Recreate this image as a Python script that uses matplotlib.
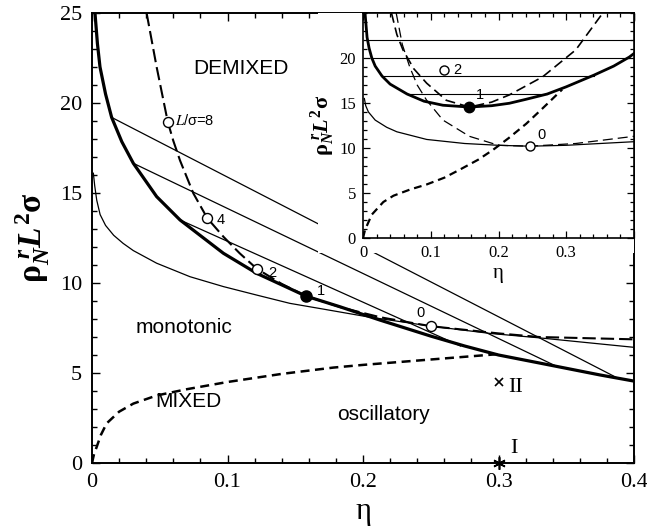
import matplotlib
matplotlib.use("Agg")
import matplotlib.pyplot as plt
from matplotlib.ticker import MultipleLocator

plt.rcParams['mathtext.fontset'] = 'custom'
plt.rcParams['mathtext.rm'] = 'Liberation Serif:bold'
plt.rcParams['mathtext.it'] = 'Liberation Serif:italic:bold'
plt.rcParams['mathtext.bf'] = 'Liberation Serif:bold'

# ---------------- main panel data ----------------
binodal_x = [0.0022, 0.004, 0.0059, 0.01, 0.0145, 0.022, 0.0305, 0.0477, 0.065, 0.097,
             0.1215, 0.158, 0.183, 0.2125, 0.25, 0.275, 0.3, 0.338, 0.375, 0.4]
binodal_y = [25.0, 23.3, 22.0, 20.5, 19.2, 17.85, 16.65, 14.8, 13.5, 11.65,
             10.54, 9.27, 8.68, 7.94, 7.05, 6.5, 6.0, 5.44, 4.89, 4.55]

crossover_x = [0.001, 0.002, 0.0035, 0.006, 0.01, 0.016, 0.023, 0.0305, 0.0477, 0.0723,
               0.097, 0.1215, 0.146, 0.1707, 0.2027, 0.2494, 0.2937, 0.3306, 0.3995]
crossover_y = [16.1, 15.4, 14.6, 13.8, 13.2, 12.65, 12.2, 11.8, 11.1, 10.35,
               9.8, 9.33, 8.87, 8.55, 8.13, 7.61, 7.2, 6.95, 6.43]

critical_x = [0.0403, 0.0477, 0.0559, 0.06, 0.065, 0.0748, 0.0851, 0.097, 0.109, 0.1215,
              0.14, 0.158, 0.185, 0.2125, 0.25, 0.3, 0.33, 0.4]
critical_y = [25.0, 22.0, 18.96, 17.9, 16.8, 14.98, 13.6, 12.57, 11.65, 10.8,
              9.95, 9.27, 8.62, 8.1, 7.6, 7.2, 7.0, 6.87]

fisher_x = [0.0, 0.0015, 0.0035, 0.0065, 0.0108, 0.02, 0.0305, 0.0477, 0.07, 0.1, 0.14,
            0.178, 0.2, 0.25, 0.3]
fisher_y = [0.0, 0.5, 0.9, 1.55, 2.2, 2.85, 3.3, 3.75, 4.1, 4.5, 4.95,
            5.3, 5.45, 5.75, 6.05]

tie_x = [[0.0145, 0.387], [0.0305, 0.342], [0.065, 0.272]]
tie_y = [[19.2, 4.75], [16.65, 5.4], [13.5, 6.5]]

crit_pts_x = [0.0559, 0.0851, 0.1215, 0.158, 0.25]
crit_pts_y = [18.96, 13.6, 10.8, 9.27, 7.6]
crit_filled = [False, False, False, True, False]
crit_labels = ['L/σ=8', '4', '2', '1', '0']
crit_label_x = [0.0613, 0.092, 0.130, 0.1658, 0.2396]
crit_label_y = [18.8, 13.3, 10.35, 9.33, 8.13]

state_x = [0.3, 0.3]
state_y = [4.5, 0.0]
state_names = ['II', 'I']
state_label_x = [0.307, 0.3085]
state_label_y = [3.94, 0.55]

region_names = ['DEMIXED', 'monotonic', 'MIXED', 'oscillatory']
region_x = [0.1099, 0.0675, 0.0712, 0.2151]
region_y = [21.6, 7.2, 3.13, 2.39]

# ---------------- inset data ----------------
in_binodal_x = [0.003, 0.006, 0.009, 0.013, 0.018, 0.028, 0.04, 0.065, 0.09, 0.118,
                0.157, 0.19, 0.216, 0.24, 0.272, 0.3, 0.341, 0.37, 0.393, 0.4]
in_binodal_y = [25.0, 22.3, 21.1, 20.0, 19.1, 18.0, 17.1, 16.0, 15.2, 14.75,
                14.55, 14.7, 14.97, 15.4, 16.0, 16.8, 18.1, 19.1, 20.1, 20.5]

in_tie_y = [22.0, 20.0, 18.0, 16.0]
in_tie_x0 = [0.0055, 0.013, 0.028, 0.065]
in_tie_x1 = [0.4, 0.393, 0.341, 0.272]

in_spin1_x = [0.042, 0.05, 0.059, 0.075, 0.094, 0.123, 0.157, 0.19, 0.216, 0.265, 0.314, 0.354]
in_spin1_y = [25.0, 22.6, 20.9, 18.8, 17.2, 15.3, 14.55, 15.1, 15.9, 17.9, 20.9, 25.0]

in_spin0_x = [0.049, 0.058, 0.069, 0.08, 0.094, 0.118, 0.157, 0.2, 0.246, 0.314, 0.4]
in_spin0_y = [25.0, 21.5, 19.0, 17.0, 15.3, 13.1, 11.3, 10.3, 10.2, 10.5, 11.3]

in_cross_x = [0.002, 0.004, 0.008, 0.018, 0.035, 0.05, 0.094, 0.15, 0.2, 0.246, 0.3, 0.35, 0.4]
in_cross_y = [15.5, 14.7, 14.0, 13.1, 12.3, 11.8, 10.95, 10.5, 10.3, 10.2, 10.3, 10.5, 10.7]

in_fisher_x = [0.0, 0.003, 0.013, 0.03, 0.045, 0.07, 0.094, 0.12, 0.143, 0.17, 0.192,
               0.215, 0.241, 0.265, 0.294]
in_fisher_y = [0.0, 0.9, 2.6, 4.0, 4.7, 5.4, 5.95, 6.7, 7.6, 8.7, 9.8,
               11.1, 12.7, 14.4, 16.5]

in_pts_x = [0.12, 0.157, 0.246]
in_pts_y = [18.7, 14.6, 10.2]
in_filled = [False, True, False]
in_labels = ['2', '1', '0']
in_label_x = [0.133, 0.166, 0.257]
in_label_y = [18.2, 15.4, 10.95]

x_ticks = [0, 0.1, 0.2, 0.3, 0.4]
x_ticklabels = ['0', '0.1', '0.2', '0.3', '0.4']
y_ticks = [0, 5, 10, 15, 20, 25]
in_x_ticklabels = ['0', '0.1', '0.2', '0.3', '']
in_y_ticks = [0, 5, 10, 15, 20]

SERIF = 'Liberation Serif'
SANS = 'Liberation Sans'
YLABEL = r'$\mathrm{\rho}_{\mathit{N}}^{\ \mathit{r}}\mathit{L}^{\mathrm{2}}\mathrm{\sigma}$'

fig = plt.figure(figsize=(6.47, 5.29), dpi=100)
ax = fig.add_axes([92/647, 1-463/529, (634-92)/647, (463-13)/529])

ax.plot(binodal_x, binodal_y, color='black', lw=2.3, solid_joinstyle='round')
ax.plot(crossover_x, crossover_y, color='black', lw=0.9)
ax.plot(critical_x, critical_y, color='black', lw=1.5, dashes=(6.4, 2.4))
ax.plot(fisher_x, fisher_y, color='black', lw=1.8, dashes=(3.6, 2.2))
for tx, ty in zip(tie_x, tie_y):
    ax.plot(tx, ty, color='black', lw=0.9)
for px, py, f in zip(crit_pts_x, crit_pts_y, crit_filled):
    ax.plot([px], [py], 'o', ms=8 if f else 7.2, mfc='black' if f else 'white',
            mec='black', mew=1.0, zorder=5)
for lab, lx, ly in zip(crit_labels, crit_label_x, crit_label_y):
    if lab.startswith('L'):
        ax.text(lx, ly, r'$\mathit{L}$/σ=8', fontsize=10.5, family=SANS,
                math_fontfamily='stix', ha='left', va='baseline')
    else:
        ax.text(lx, ly, lab, fontsize=10.5, family=SANS, ha='left', va='baseline')

ax.plot([state_x[0]], [state_y[0]], marker='x', ms=6, mew=1.2, color='black', ls='none')
ax.plot([state_x[1]], [state_y[1]], marker=(6, 2, 0), ms=9, mew=1.2, color='black',
        ls='none', clip_on=False, zorder=6)
for n, lx, ly in zip(state_names, state_label_x, state_label_y):
    ax.text(lx, ly, n, fontsize=16, family=SERIF, ha='left', va='baseline')

for n, rx, ry in zip(region_names, region_x, region_y):
    ax.text(rx, ry, n, fontsize=15, family=SANS, ha='center', va='baseline')

ax.set_xlim(0, 0.4)
ax.set_ylim(0, 25)
ax.set_xticks(x_ticks)
ax.set_xticklabels(x_ticklabels, family=SERIF, fontsize=16)
ax.set_yticks(y_ticks)
ax.set_yticklabels([str(v) for v in y_ticks], family=SERIF, fontsize=16)
ax.xaxis.set_minor_locator(MultipleLocator(0.02))
ax.yaxis.set_minor_locator(MultipleLocator(1))
ax.tick_params(which='both', direction='in', top=True, right=True, width=1.0)
ax.tick_params(which='major', length=6, pad=7)
ax.tick_params(which='minor', length=3.5)
for s in ax.spines.values():
    s.set_linewidth(1.4)
ax.set_xlabel('η', family=SERIF, fontsize=22, labelpad=4)
ax.set_ylabel(YLABEL, fontsize=24, math_fontfamily='custom', labelpad=6)

# white box behind the inset (covers its tick labels)
box = fig.add_axes([318/647, 1-253/529, (634-318)/647, (253-13)/529], zorder=3)
box.set_facecolor('white')
box.set_xticks([])
box.set_yticks([])
for s in box.spines.values():
    s.set_visible(False)

ins = fig.add_axes([363/647, 1-238/529, (634-363)/647, (238-13)/529], zorder=4)
ins.plot(in_binodal_x, in_binodal_y, color='black', lw=2.0, solid_joinstyle='round')
for ty, x0, x1 in zip(in_tie_y, in_tie_x0, in_tie_x1):
    ins.plot([x0, x1], [ty, ty], color='black', lw=0.8)
ins.plot(in_spin1_x, in_spin1_y, color='black', lw=1.2, dashes=(6, 3))
ins.plot(in_spin0_x, in_spin0_y, color='black', lw=0.9, dashes=(8, 4))
ins.plot(in_cross_x, in_cross_y, color='black', lw=0.9)
ins.plot(in_fisher_x, in_fisher_y, color='black', lw=1.6, dashes=(3.5, 2.2))
for px, py, f in zip(in_pts_x, in_pts_y, in_filled):
    ins.plot([px], [py], 'o', ms=7.5 if f else 6.5, mfc='black' if f else 'white',
             mec='black', mew=1.0, zorder=5)
for lab, lx, ly in zip(in_labels, in_label_x, in_label_y):
    ins.text(lx, ly, lab, fontsize=10.5, family=SANS, ha='left', va='baseline')
ins.set_xlim(0, 0.4)
ins.set_ylim(0, 25)
ins.set_xticks(x_ticks)
ins.set_xticklabels(in_x_ticklabels, family=SERIF, fontsize=12)
ins.set_yticks(in_y_ticks)
ins.set_yticklabels([str(v) for v in in_y_ticks], family=SERIF, fontsize=12)
ins.xaxis.set_minor_locator(MultipleLocator(0.02))
ins.yaxis.set_minor_locator(MultipleLocator(1))
ins.tick_params(which='both', direction='in', top=True, right=True, width=0.9)
ins.tick_params(which='major', length=5, pad=5)
ins.tick_params(which='minor', length=3)
for s in ins.spines.values():
    s.set_linewidth(1.2)
ins.set_xlabel('η', family=SERIF, fontsize=15, labelpad=2)
ins.set_ylabel(YLABEL, fontsize=16, math_fontfamily='custom', labelpad=2)

fig.savefig('out.png', dpi=100)
